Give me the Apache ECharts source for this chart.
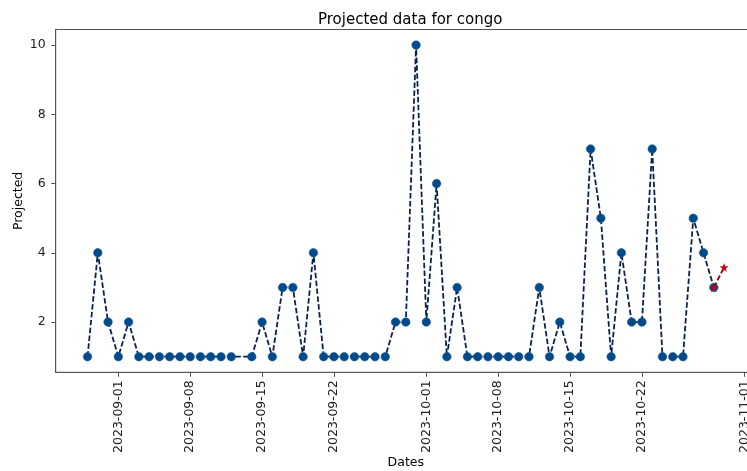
<!DOCTYPE html>
<html>
<head>
<meta charset="utf-8">
<script src="https://cdn.jsdelivr.net/npm/echarts@6/dist/echarts.min.js"></script>
<style>
html,body{margin:0;padding:0;background:#fff;}
#chart{width:747px;height:471px;}
</style>
</head>
<body>
<div id="chart"></div>
<script>
// ---- data ----
var dates = [
  '2023-08-29','2023-08-30','2023-08-31','2023-09-01','2023-09-02','2023-09-03','2023-09-04',
  '2023-09-05','2023-09-06','2023-09-07','2023-09-08','2023-09-09','2023-09-10','2023-09-11',
  '2023-09-12','2023-09-14','2023-09-15','2023-09-16','2023-09-17','2023-09-18','2023-09-19',
  '2023-09-20','2023-09-21','2023-09-22','2023-09-23','2023-09-24','2023-09-25','2023-09-26',
  '2023-09-27','2023-09-28','2023-09-29','2023-09-30','2023-10-01','2023-10-02','2023-10-03',
  '2023-10-04','2023-10-05','2023-10-06','2023-10-07','2023-10-08','2023-10-09','2023-10-10',
  '2023-10-11','2023-10-12','2023-10-13','2023-10-14','2023-10-15','2023-10-16','2023-10-17',
  '2023-10-18','2023-10-19','2023-10-20','2023-10-21','2023-10-22','2023-10-23','2023-10-24',
  '2023-10-25','2023-10-26','2023-10-27','2023-10-28','2023-10-29'
];
var values = [
  1,4,2,1,2,1,1,
  1,1,1,1,1,1,1,
  1,1,2,1,3,3,1,
  4,1,1,1,1,1,1,
  1,2,2,10,2,6,1,
  3,1,1,1,1,1,1,
  1,3,1,2,1,1,7,
  5,1,4,2,2,7,1,
  1,1,5,4,3
];
var projDates = ['2023-10-29','2023-10-30'];
var projValues = [3, 3.58];
var xTickLabels = ['2023-09-01','2023-09-08','2023-09-15','2023-09-22','2023-10-01','2023-10-08','2023-10-15','2023-10-22','2023-11-01'];
var yTickLabels = [2,4,6,8,10];

// ---- helpers ----
function ts(s){ var p = s.split('-'); return Date.UTC(+p[0], +p[1]-1, +p[2]); }
function fmt(v){
  var d = new Date(Math.round(v));
  var m = d.getUTCMonth()+1, dd = d.getUTCDate();
  return d.getUTCFullYear() + '-' + (m<10?'0':'') + m + '-' + (dd<10?'0':'') + dd;
}
var xMin = ts(dates[0]), xMax = ts(projDates[projDates.length-1]);
var xPad = (xMax - xMin) * 0.05;
var allY = values.concat(projValues);
var yMinD = Math.min.apply(null, allY), yMaxD = Math.max.apply(null, allY);
var yPad = (yMaxD - yMinD) * 0.05;

var font = 'DejaVu Sans';
var chart = echarts.init(document.getElementById('chart'), null, {renderer:'canvas'});
chart.setOption({
  animation: false,
  backgroundColor: '#ffffff',
  title: {
    text: 'Projected data for congo',
    left: 313, top: 8,
    textStyle: {fontFamily: font, fontSize: 15, fontWeight: 'normal', color: '#000'}
  },
  grid: {
    left: 55.7, top: 29.5, right: -8.9, bottom: 98.7,
    outerBoundsMode: 'none', containLabel: false,
    show: true, borderColor: '#555', borderWidth: 1, backgroundColor: 'transparent'
  },
  xAxis: {
    type: 'value',
    min: xMin - xPad, max: xMax + xPad,
    name: 'Dates', nameLocation: 'middle', nameGap: 84, nameMoveOverlap: false,
    nameTextStyle: {fontFamily: font, fontSize: 12.5, color: '#000'},
    axisLine: {show: true, lineStyle: {color: '#555', width: 1}},
    axisTick: {show: true, length: 4.5, lineStyle: {color: '#555'}, customValues: xTickLabels.map(ts)},
    axisLabel: {
      rotate: 90, margin: 8, fontFamily: font, fontSize: 12.5, color: '#222',
      customValues: xTickLabels.map(ts), hideOverlap: false,
      formatter: function(v){ return fmt(v); }
    },
    splitLine: {show: false}
  },
  yAxis: {
    type: 'value',
    min: yMinD - yPad, max: yMaxD + yPad,
    name: 'Projected', nameLocation: 'middle', nameGap: 30, nameMoveOverlap: false,
    nameTextStyle: {fontFamily: font, fontSize: 12.5, color: '#000'},
    axisLine: {show: true, lineStyle: {color: '#555', width: 1}},
    axisTick: {show: true, length: 4.5, lineStyle: {color: '#555'}, customValues: yTickLabels},
    axisLabel: {margin: 10, fontFamily: font, fontSize: 12.5, color: '#222', customValues: yTickLabels},
    splitLine: {show: false}
  },
  series: [
    {
      type: 'line',
      data: dates.map(function(d, i){ return [ts(d), values[i]]; }),
      symbol: 'circle', symbolSize: 8.5, showSymbol: true,
      lineStyle: {color: '#0b2150', width: 1.8, type: [5.5, 2.4]},
      itemStyle: {color: '#034a8a', borderColor: '#1a5c9a', borderWidth: 0.6},
      z: 2
    },
    {
      type: 'line',
      data: projDates.map(function(d, i){ return [ts(d), projValues[i]]; }),
      symbol: 'path://M0,-10L2.35,-3.24L9.51,-3.09L3.8,1.24L5.88,8.09L0,4L-5.88,8.09L-3.8,1.24L-9.51,-3.09L-2.35,-3.24Z',
      symbolSize: 9, showSymbol: true,
      lineStyle: {color: '#9b0000', width: 1.8, type: [5.5, 2.4]},
      itemStyle: {color: '#c8001a'},
      z: 3
    }
  ]
});
</script>
</body>
</html>
